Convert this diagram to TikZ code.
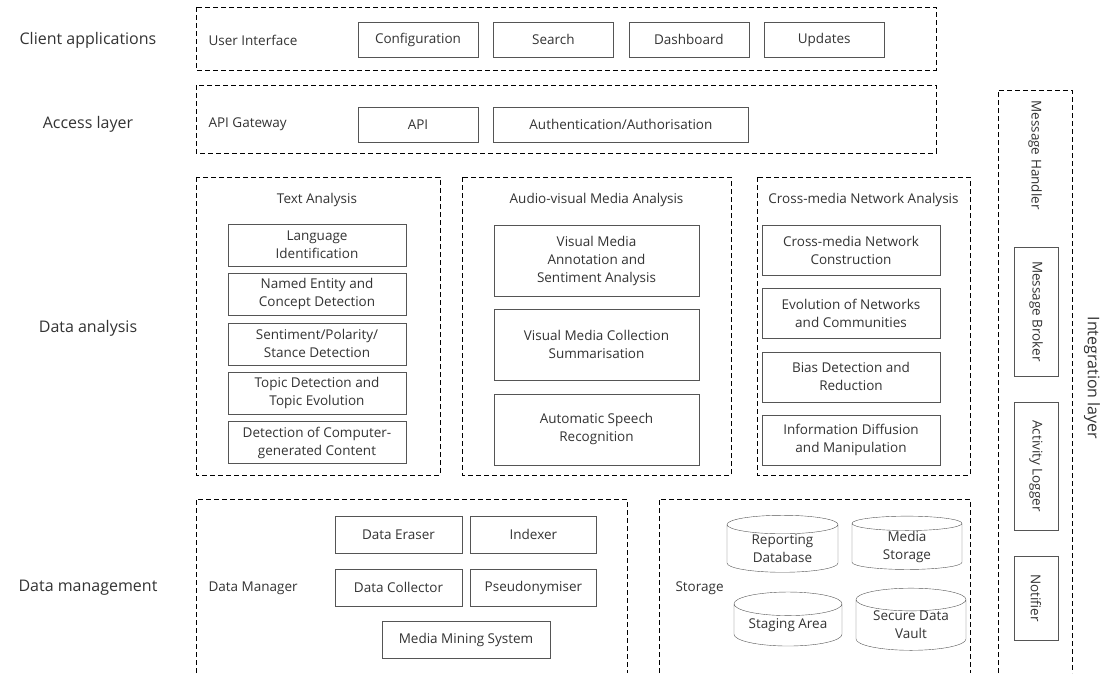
\documentclass[tikz,border=0pt]{standalone}
\usepackage{fontspec}
\setmainfont{Open Sans}
\usepackage{xcolor}
\usetikzlibrary{positioning,shapes.geometric}
\definecolor{ink}{HTML}{333333}
\definecolor{rim}{HTML}{555555}
\tikzset{
  layer/.style={text=ink,font=\fontsize{16}{19}\selectfont},
  title/.style={text=ink,font=\fontsize{13.5}{17}\selectfont},
  part/.style={draw=rim,text=ink,align=center,inner sep=0pt,font=\fontsize{13.5}{18}\selectfont},
  zone/.style={draw,dash pattern=on 5pt off 3pt,line width=0.8pt},
  store/.style={draw=rim,cylinder,shape border rotate=90,aspect=0.3,text=ink,align=center,inner sep=0pt,font=\fontsize{13.5}{18}\selectfont}
}
\begin{document}
\begin{tikzpicture}[x=1pt,y=-1pt]
\useasboundingbox (0,0) rectangle (1107,673);
% layer names
\node (client) [layer] at (88,40) {Client applications};
\node (access) [layer] at (88,124) {Access layer};
\node (analysis) [layer] at (88,328) {Data analysis};
\node (management) [layer] at (88,588) {Data management};
% client applications
\draw [zone] (196,7) rectangle (936,70);
\node (ui) [title,anchor=west] at (205,40) {User Interface};
\node (config) [part,minimum width=120,minimum height=35] at (418,39.5) {Configuration};
\node (search) [part,minimum width=120,minimum height=35,right=15pt of config] {Search};
\node (dash) [part,minimum width=120,minimum height=35,right=15pt of search] {Dashboard};
\node (updates) [part,minimum width=120,minimum height=35,right=15pt of dash] {Updates};
% access layer
\draw [zone] (196,85) rectangle (936,153);
\node (gateway) [title,anchor=west] at (205,124) {API Gateway};
\node (api) [part,minimum width=120,minimum height=35] at (418,124.5) {API};
\node (auth) [part,minimum width=255,minimum height=35,right=15pt of api] {Authentication/Authorisation};
% text analysis
\draw [zone] (196,177) rectangle (440,475);
\node (text) [title] at (317,200) {Text Analysis};
\node (lang) [part,minimum width=178,minimum height=42] at (317,245) {Language\\Identification};
\node (ner) [part,minimum width=178,minimum height=42,below=7pt of lang] {Named Entity and\\Concept Detection};
\node (senti) [part,minimum width=178,minimum height=42,below=7pt of ner] {Sentiment/Polarity/\\Stance Detection};
\node (topic) [part,minimum width=178,minimum height=42,below=7pt of senti] {Topic Detection and\\Topic Evolution};
\node (gen) [part,minimum width=178,minimum height=42,below=7pt of topic] {Detection of Computer-\\generated Content};
% audio-visual media analysis
\draw [zone] (462,177) rectangle (731,475);
\node (av) [title] at (596.5,200) {Audio-visual Media Analysis};
\node (annot) [part,minimum width=205,minimum height=71] at (596.5,260.5) {Visual Media\\Annotation and\\Sentiment Analysis};
\node (summ) [part,minimum width=205,minimum height=71,below=13pt of annot] {Visual Media Collection\\Summarisation};
\node (asr) [part,minimum width=205,minimum height=71,below=13pt of summ] {Automatic Speech\\Recognition};
% cross-media network analysis
\draw [zone] (757,177) rectangle (970,475);
\node (cm) [title] at (863.5,200) {Cross-media Network Analysis};
\node (constr) [part,minimum width=178,minimum height=50] at (851,250) {Cross-media Network\\Construction};
\node (evol) [part,minimum width=178,minimum height=50,below=13pt of constr] {Evolution of Networks\\and Communities};
\node (bias) [part,minimum width=178,minimum height=50,below=13pt of evol] {Bias Detection and\\Reduction};
\node (diff) [part,minimum width=178,minimum height=50,below=13pt of bias] {Information Diffusion\\and Manipulation};
% data manager
\draw [zone] (196,673) |- (627,499) -- (627,673);
\node (manager) [title,anchor=west] at (205,588) {Data Manager};
\node (eraser) [part,minimum width=127,minimum height=37] at (398.5,534.5) {Data Eraser};
\node (indexer) [part,minimum width=126,minimum height=37,right=8pt of eraser] {Indexer};
\node (collector) [part,minimum width=127,minimum height=37,below=16pt of eraser] {Data Collector};
\node (pseudo) [part,minimum width=126,minimum height=37,right=8pt of collector] {Pseudonymiser};
\node (mining) [part,minimum width=168,minimum height=37] at (466,639.5) {Media Mining System};
% storage
\draw [zone] (659,673) |- (970,499) -- (970,673);
\node (storage) [title,anchor=west] at (672,588) {Storage};
\node (report) [store,minimum width=111,minimum height=57] at (782.5,548.5) {Reporting\\Database};
\node (media) [store,minimum width=110,minimum height=53] at (907,546.5) {Media\\Storage};
\node (staging) [store,minimum width=108,minimum height=54] at (788,625) {Staging Area};
\node (vault) [store,minimum width=110,minimum height=54] at (911,625) {Secure Data\\Vault};
% integration layer
\draw [zone] (998,673) |- (1072,90) -- (1072,673);
\node (handler) [title,rotate=-90] at (1035,155) {Message Handler};
\node (broker) [part,rotate=-90,minimum width=129,minimum height=44] at (1036,311.5) {Message Broker};
\node (logger) [part,rotate=-90,minimum width=128,minimum height=44] at (1036,466) {Activity Logger};
\node (notifier) [part,rotate=-90,minimum width=84,minimum height=44] at (1036,598) {Notifier};
\node (integration) [layer,rotate=-90] at (1092,378) {Integration layer};
\end{tikzpicture}
\end{document}
